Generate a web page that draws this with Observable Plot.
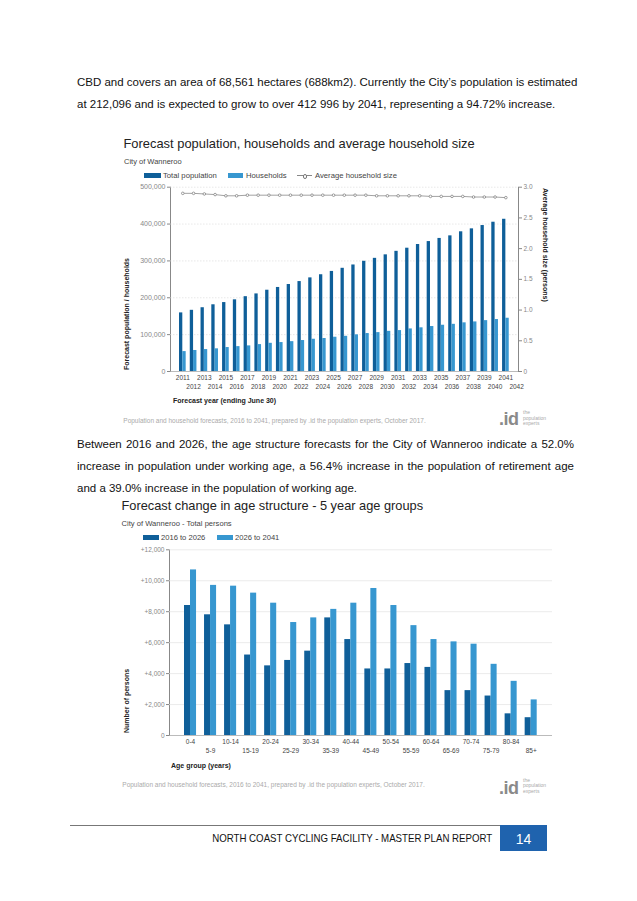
<!DOCTYPE html>
<html><head><meta charset="utf-8">
<script src="https://cdn.jsdelivr.net/npm/d3@7"></script>
<script src="https://cdn.jsdelivr.net/npm/@observablehq/plot@0.6"></script>
<style>
body{margin:0;background:#fff;font-family:"Liberation Sans",Arial,sans-serif;}
#page{position:relative;width:637px;height:901px;overflow:hidden;background:#fff;}
.a{position:absolute;white-space:nowrap;line-height:1;}
.j{position:absolute;white-space:nowrap;line-height:1;text-align:justify;text-align-last:justify;}
.sw{position:absolute;}
svg{position:absolute;overflow:visible;}
</style></head><body><div id="page"></div>
<script>
// ---------- Chart 1 data ----------
const years = [2011,2012,2013,2014,2015,2016,2017,2018,2019,2020,2021,2022,2023,2024,2025,2026,2027,2028,2029,2030,2031,2032,2033,2034,2035,2036,2037,2038,2039,2040,2041];
const totalPopulation = [159000,166000,173000,181000,187000,194500,203000,210500,220500,228000,236000,244000,254000,262500,271500,280000,289000,299000,307000,316500,326000,334500,344500,352500,361000,368000,379000,387000,396000,405000,413000];
const households = [54000,57000,59500,61500,65000,67500,69500,73000,76500,78500,81000,84000,87500,89500,93000,95500,99500,103000,105500,109000,111000,115500,118500,122000,125500,128000,132000,134500,138000,141000,144500];
const householdSize = [2.90,2.90,2.89,2.88,2.86,2.86,2.87,2.87,2.87,2.87,2.87,2.87,2.87,2.87,2.87,2.87,2.87,2.87,2.86,2.86,2.86,2.86,2.86,2.85,2.85,2.85,2.85,2.84,2.84,2.84,2.83];
const topRowYears = [2011,2013,2015,2017,2019,2021,2023,2025,2027,2029,2031,2033,2035,2037,2039,2041];
const bottomRowYears = [2012,2014,2016,2018,2020,2022,2024,2026,2028,2030,2032,2034,2036,2038,2040,2042];
const populationTicks = [0,100000,200000,300000,400000,500000];
const sizeTicks = [0,0.5,1.0,1.5,2.0,2.5,3.0];

// ---------- Chart 2 data ----------
const ageGroups = ["0-4","5-9","10-14","15-19","20-24","25-29","30-34","35-39","40-44","45-49","50-54","55-59","60-64","65-69","70-74","75-79","80-84","85+"];
const change2016to2026 = [8400,7800,7150,5200,4500,4850,5450,7600,6200,4300,4300,4650,4400,2900,2900,2550,1400,1150];
const change2026to2041 = [10700,9700,9650,9200,8550,7300,7600,8150,8550,9500,8400,7100,6200,6050,5900,4600,3500,2300];
const changeTicks = [0,2000,4000,6000,8000,10000,12000];

const DARK = "#0f5f99", LIGHT = "#3797d0";
const FONT = "Liberation Sans, Arial, sans-serif";
const page = document.getElementById("page");

function txt(cls, text, css){
  const d = document.createElement("div");
  d.className = cls; d.textContent = text;
  Object.assign(d.style, css); page.appendChild(d); return d;
}
function box(css){
  const d = document.createElement("div");
  d.className = "sw"; Object.assign(d.style, css); page.appendChild(d); return d;
}

// ---------- Body text ----------
const body = {fontSize:"11.5px", color:"#111"};
txt("j","CBD and covers an area of 68,561 hectares (688km2). Currently the City\u2019s population is estimated",{...body,left:"77px",top:"77px",width:"497px"});
txt("a","at 212,096 and is expected to grow to over 412 996 by 2041, representing a 94.72% increase.",{...body,left:"77px",top:"98.6px"});
txt("j","Between 2016 and 2026, the age structure forecasts for the City of Wanneroo indicate a 52.0%",{...body,left:"77px",top:"439.3px",width:"497px"});
txt("j","increase in population under working age, a 56.4% increase in the population of retirement age",{...body,left:"77px",top:"461px",width:"497px"});
txt("a","and a 39.0% increase in the population of working age.",{...body,left:"77px",top:"482.6px"});

// ---------- Chart 1 headings & legend ----------
txt("a","Forecast population, households and average household size",{left:"123.5px",top:"138.4px",fontSize:"12.9px",color:"#222"});
txt("a","City of Wanneroo",{left:"124px",top:"158.3px",fontSize:"7.5px",color:"#444"});
box({left:"144px",top:"173.2px",width:"17px",height:"5.2px",background:DARK});
txt("a","Total population",{left:"163px",top:"172px",fontSize:"7.7px",color:"#444"});
box({left:"228px",top:"173.2px",width:"15px",height:"5.2px",background:LIGHT});
txt("a","Households",{left:"246px",top:"172px",fontSize:"7.7px",color:"#444"});
box({left:"297px",top:"175.4px",width:"15px",height:"0.8px",background:"#888"});
box({left:"302.8px",top:"174.2px",width:"2.4px",height:"2.4px",border:"0.7px solid #777",borderRadius:"50%",background:"#fff"});
txt("a","Average household size",{left:"315px",top:"172px",fontSize:"7.7px",color:"#444"});

// ---------- Chart 1 ----------
const popRows = years.map((y,i)=>({year:y,total:totalPopulation[i],households:households[i],size:householdSize[i]}));
const xDomain1 = years.concat(bottomRowYears.filter(y=>!years.includes(y)));
const common1 = {width:450,height:215,marginLeft:60,marginRight:42,marginTop:6.7,marginBottom:24};
const xScale1 = {type:"band",domain:xDomain1,padding:0,round:false,insetLeft:6.9,insetRight:-3.5,axis:null};

const chart1 = Plot.plot({
  ...common1,
  style:{fontFamily:FONT,fontSize:"7px",color:"#888",background:"transparent",overflow:"visible"},
  x:xScale1,
  y:{domain:[0,500000],ticks:populationTicks,tickFormat:d3.format(","),tickSize:3,tickPadding:2,line:true,label:null},
  marks:[
    Plot.ruleY(populationTicks.slice(1),{stroke:"#d8d8d8",strokeDasharray:"1.5,1.5",strokeWidth:0.6}),
    Plot.barY(popRows,{x:"year",y:"total",fill:DARK,insetLeft:2.1,insetRight:5.37}),
    Plot.barY(popRows,{x:"year",y:"households",fill:LIGHT,insetLeft:5.4,insetRight:2}),
    Plot.ruleY([0],{stroke:"#aaa",strokeWidth:0.8}),
    Plot.text(topRowYears,{x:d=>d,text:d=>String(d),frameAnchor:"bottom",dy:8,fontSize:6.5,fill:"#444"}),
    Plot.text(bottomRowYears,{x:d=>d,text:d=>String(d),frameAnchor:"bottom",dy:17,fontSize:6.5,fill:"#444"})
  ]
});
chart1.style.left="110px"; chart1.style.top="180px";
page.appendChild(chart1);

const chart1b = Plot.plot({
  ...common1,
  style:{fontFamily:FONT,fontSize:"6.5px",color:"#888",background:"transparent",overflow:"visible"},
  x:xScale1,
  y:{domain:[0,3],axis:"right",ticks:sizeTicks,tickFormat:d=>d===0?"0":d.toFixed(1),tickSize:3,tickPadding:2,line:true,label:null},
  marks:[
    Plot.line(popRows,{x:"year",y:"size",stroke:"#8a8a8a",strokeWidth:0.8}),
    Plot.dot(popRows,{x:"year",y:"size",r:1.3,stroke:"#777",fill:"#fff",strokeWidth:0.7})
  ]
});
chart1b.style.left="110px"; chart1b.style.top="180px"; chart1b.style.pointerEvents="none";
page.appendChild(chart1b);

// Chart 1 axis titles, caption, logo
txt("a","Forecast population / households",{left:"123.2px",top:"370px",fontSize:"7px",fontWeight:"bold",color:"#222",transformOrigin:"0 0",transform:"rotate(-90deg)"});
txt("a","Average household size (persons)",{left:"548.5px",top:"188px",fontSize:"7px",fontWeight:"bold",color:"#222",transformOrigin:"0 0",transform:"rotate(90deg)"});
txt("a","Forecast year (ending June 30)",{left:"173px",top:"397.3px",fontSize:"7px",fontWeight:"bold",color:"#222"});
txt("a","Population and household forecasts, 2016 to 2041, prepared by .id the population experts, October 2017.",{left:"123.3px",top:"417.5px",fontSize:"6.5px",color:"#aaa"});
txt("a",".id",{left:"499px",top:"409.8px",fontSize:"18px",fontWeight:"bold",color:"#8a8a8a",letterSpacing:"-0.5px"});
txt("a","the\npopulation\nexperts",{left:"523px",top:"410px",fontSize:"5px",lineHeight:"5.5px",whiteSpace:"pre",color:"#aaa"});

// ---------- Chart 2 headings & legend ----------
txt("a","Forecast change in age structure - 5 year age groups",{left:"121.5px",top:"500.2px",fontSize:"12.8px",color:"#222"});
txt("a","City of Wanneroo - Total persons",{left:"121.5px",top:"519.6px",fontSize:"7.6px",color:"#444"});
box({left:"143px",top:"535.2px",width:"16px",height:"5.2px",background:DARK});
txt("a","2016 to 2026",{left:"161px",top:"534px",fontSize:"7.6px",color:"#444"});
box({left:"217px",top:"535.2px",width:"16px",height:"5.2px",background:LIGHT});
txt("a","2026 to 2041",{left:"235px",top:"534px",fontSize:"7.6px",color:"#444"});

// ---------- Chart 2 ----------
const ageRows = ageGroups.map((g,i)=>({age:g,a:change2016to2026[i],b:change2026to2041[i]}));
const chart2 = Plot.plot({
  width:460,height:225,marginLeft:59,marginRight:18,marginTop:9.3,marginBottom:30,
  style:{fontFamily:FONT,fontSize:"6.5px",color:"#888",background:"transparent",overflow:"visible"},
  x:{type:"band",domain:ageGroups,padding:0,round:false,insetLeft:11,insetRight:11.3,axis:null},
  y:{domain:[0,12000],ticks:changeTicks,tickFormat:d=>d===0?"0":"+"+d3.format(",")(d),tickSize:3,tickPadding:2,line:true,label:null},
  marks:[
    Plot.ruleY(changeTicks.slice(1),{stroke:"#e2e2e2",strokeWidth:0.7}),
    Plot.barY(ageRows,{x:"age",y:"a",fill:DARK,insetLeft:4,insetRight:10}),
    Plot.barY(ageRows,{x:"age",y:"b",fill:LIGHT,insetLeft:10,insetRight:4}),
    Plot.ruleY([0],{stroke:"#aaa",strokeWidth:0.8}),
    Plot.text(ageGroups.filter((d,i)=>i%2===0),{x:d=>d,text:d=>d,frameAnchor:"bottom",dy:8,fontSize:6.5,fill:"#444"}),
    Plot.text(ageGroups.filter((d,i)=>i%2===1),{x:d=>d,text:d=>d,frameAnchor:"bottom",dy:17,fontSize:6.5,fill:"#444"})
  ]
});
chart2.style.left="110px"; chart2.style.top="540px";
page.appendChild(chart2);

txt("a","Number of persons",{left:"123px",top:"733px",fontSize:"7px",fontWeight:"bold",color:"#222",transformOrigin:"0 0",transform:"rotate(-90deg)"});
txt("a","Age group (years)",{left:"171px",top:"761.6px",fontSize:"7px",fontWeight:"bold",color:"#222"});
txt("a","Population and household forecasts, 2016 to 2041, prepared by .id the population experts, October 2017.",{left:"122.3px",top:"781.8px",fontSize:"6.5px",color:"#aaa"});
txt("a",".id",{left:"499px",top:"778.8px",fontSize:"18px",fontWeight:"bold",color:"#8a8a8a",letterSpacing:"-0.5px"});
txt("a","the\npopulation\nexperts",{left:"523px",top:"777.5px",fontSize:"5px",lineHeight:"5.5px",whiteSpace:"pre",color:"#aaa"});

// ---------- Footer ----------
box({left:"70px",top:"824.5px",width:"477px",height:"1px",background:"#777"});
txt("a","NORTH COAST CYCLING FACILITY - MASTER PLAN REPORT",{right:"145px",top:"832.7px",fontSize:"11px",color:"#111",transformOrigin:"100% 50%",transform:"scaleX(0.88)"});
box({left:"500px",top:"825px",width:"47px",height:"26px",background:"#1f63ae"});
txt("a","14",{left:"500px",top:"832px",width:"47px",textAlign:"center",fontSize:"14px",color:"#fff"});
</script></body></html>
